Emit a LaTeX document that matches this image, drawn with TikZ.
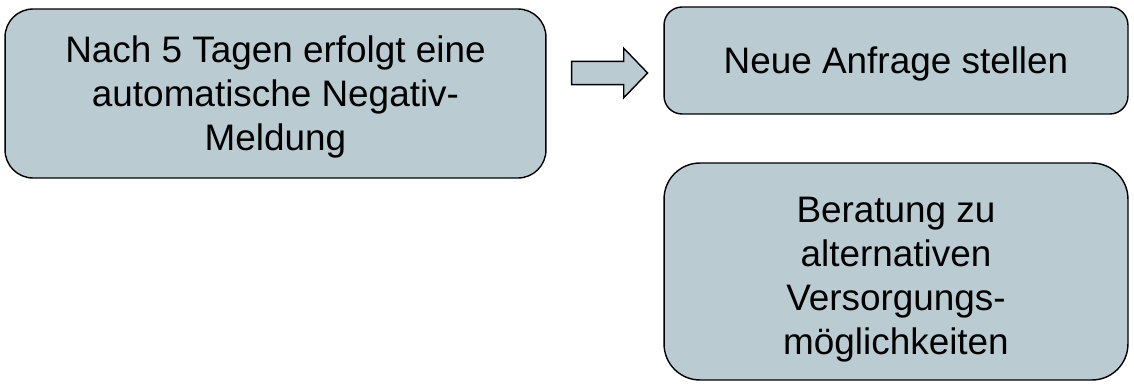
\documentclass[tikz,border=0pt]{standalone}
\usepackage{fontspec}
\setmainfont{Liberation Sans}
\usetikzlibrary{shapes.arrows}
\definecolor{boxfill}{RGB}{186,203,210}
\newcommand{\obenrand}[1][0.905em]{\rule{0pt}{#1}}
\newcommand{\untenrand}{\rule[-0.212em]{0pt}{0pt}}
\tikzset{
	box/.style={draw=black,line width=0.8pt,fill=boxfill,align=center,
		font=\fontsize{21pt}{25pt}\selectfont,inner sep=0pt},
}

\begin{document}
\begin{tikzpicture}[x=0.02cm,y=-0.02cm]
	\useasboundingbox (0,0) rectangle (1134,385);
	\node[box,rounded corners=0.56cm,minimum width=10.82cm,minimum height=3.38cm] at (275.5,93.5) (meldung) {\obenrand Nach 5 Tagen erfolgt eine\\automatische Negativ-\\Meldung\untenrand};
	\node[box,rounded corners=0.36cm,minimum width=9.28cm,minimum height=2.14cm] at (896,60.5) (anfrage) {\obenrand Neue Anfrage stellen\untenrand};
	\node[box,rounded corners=0.72cm,minimum width=9.28cm,minimum height=4.34cm] at (896,271.5) (beratung) {\obenrand[1.15em]Beratung zu\\alternativen\\Versorgungs-\\möglichkeiten\untenrand};
	\node[single arrow,draw=black,line width=0.8pt,fill=boxfill,inner sep=0.22cm,
		single arrow head extend=0.26cm,single arrow tip angle=92,
		minimum height=1.52cm] at (604,73) (pfeil) {};
\end{tikzpicture}
\end{document}
